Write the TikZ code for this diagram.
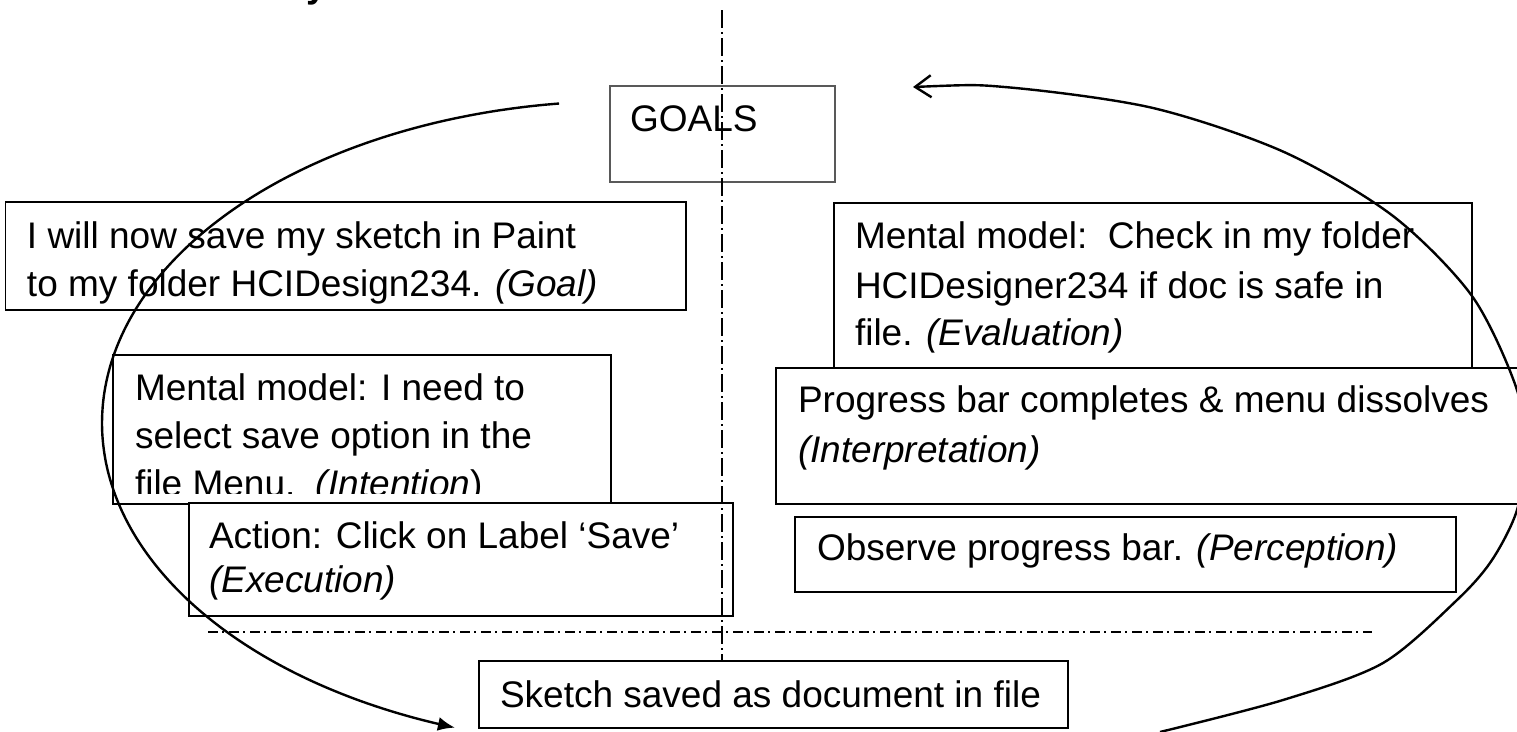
\documentclass[tikz,border=0pt]{standalone}
\usepackage{fontspec}
\setmainfont{Liberation Sans}
\usetikzlibrary{arrows.meta}
\begin{document}
\begin{tikzpicture}[x=1pt,y=-1pt,
  box/.style={draw=black, line width=1.8pt, fill=white, inner sep=0pt, outer sep=0pt, anchor=north west},
  goalbox/.style={box, draw=black!65, line width=1.2pt},
  txt/.style={anchor=base west, inner sep=0pt, outer sep=0pt, font=\fontsize{37}{44}\selectfont},
  divider/.style={line width=1.5pt, dash pattern=on 18pt off 4pt on 2pt off 4pt},
  hdivider/.style={line width=1.3pt, dash pattern=on 10pt off 4pt on 2pt off 5pt},
  cycleline/.style={line width=2.4pt},
]
\useasboundingbox (0,0) rectangle (1517,731);

% heading above the picture (only its tail is inside the frame)
\node[txt, font=\fontsize{37}{44}\selectfont\bfseries] (heading) at (306,-3) {y};

% boxes
\node[goalbox, minimum width=225pt, minimum height=96pt] (goals) at (610,86) {};
\node[box, minimum width=680.5pt, minimum height=108pt] (goal) at (5.5,202) {};
\node[box, minimum width=498pt, minimum height=149pt] (intention) at (113,355) {};
\node[box, minimum width=544pt, minimum height=113pt] (execution) at (189,503) {};
\node[box, minimum width=638pt, minimum height=165pt] (evaluation) at (834,203) {};
\node[box, minimum width=760pt, minimum height=136pt] (interpretation) at (776,368) {};
\node[box, minimum width=661pt, minimum height=75pt] (perception) at (795,517) {};
\node[box, minimum width=589pt, minimum height=67pt] (outcome) at (479,661) {};

% texts
\node[txt] (goalsT) at (630,131) {GOALS};

\node[txt] (goalT1) at (27,248) {I will now save my sketch in Paint};
\node[txt] (goalT2) at (27,296) {to my folder HCIDesign234. \textit{(Goal)}};

\node[txt] (intentionT1) at (135,400) {Mental model: I need to};
\node[txt] (intentionT2) at (135,448) {select save option in the};
\begin{scope}
  \clip (113,355) rectangle (611,493);
  \node[txt] (intentionT3) at (135,496) {file Menu.\ \ \textit{(Intention})};
\end{scope}

\node[txt] (executionT1) at (209,548) {Action: Click on Label ‘Save’};
\node[txt] (executionT2) at (209,592) {\textit{(Execution)}};

\node[txt] (evaluationT1) at (855,248) {Mental model:\ \ Check in my folder};
\node[txt] (evaluationT2) at (855,298) {HCIDesigner234 if doc is safe in};
\node[txt] (evaluationT3) at (855,345) {file. \textit{(Evaluation)}};

\node[txt] (interpretationT1) at (798,412) {Progress bar completes \& menu dissolves};
\node[txt] (interpretationT2) at (798,462) {\textit{(Interpretation)}};

\node[txt] (perceptionT) at (817,560) {Observe progress bar. \textit{(Perception)}};

\node[txt] (outcomeT) at (500,707) {Sketch saved as document in file};

% dividing lines
\coordinate (vtop) at (722,10);
\draw[divider] (vtop) -- (vtop |- outcome.north);
\coordinate (hleft) at (208,632);
\coordinate (hright) at (1372,632);
\draw[hdivider] (hleft) -- (hright);

% execution arc (left)
\draw[cycleline, -{Latex[length=17pt,width=14pt]}]
  plot[smooth, domain=262.85:108.9, samples=90] ({624+522*cos(\x)},{423+322*sin(\x)});

% evaluation arc (right)
\draw[cycleline, {Straight Barb[length=16pt,width=22pt]}-]
  plot[smooth] coordinates {(913,87) (1009,87.4) (1153,108) (1284,152) (1393,216) (1472,296) (1516,387) (1525,450) (1517,510) (1492,560) (1457,600) (1383,663) (1283,700) (1160,732)};
\end{tikzpicture}
\end{document}
